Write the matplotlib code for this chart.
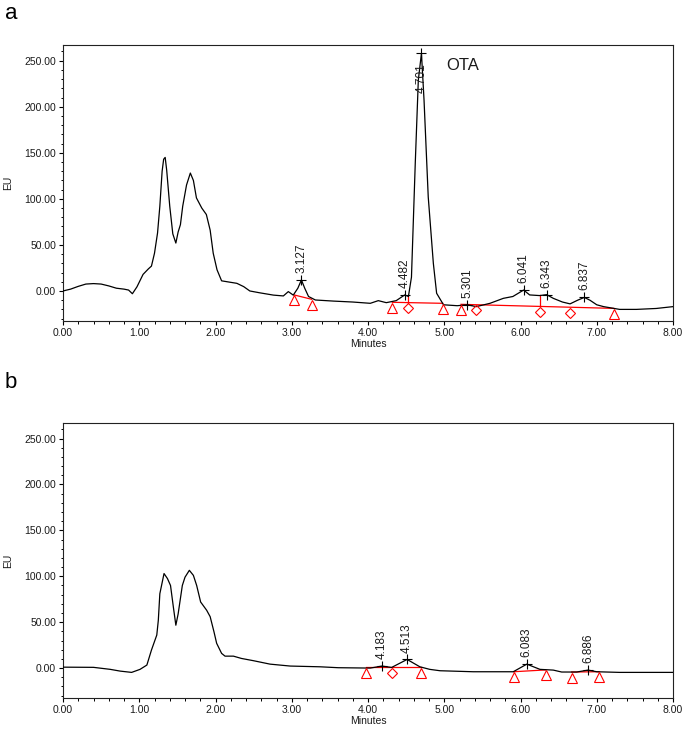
import numpy as np
import matplotlib
matplotlib.use("Agg")
import matplotlib.pyplot as plt
from matplotlib.ticker import MultipleLocator, FormatStrFormatter
from matplotlib.transforms import offset_copy

plt.rcParams['font.family'] = ['Liberation Sans', 'DejaVu Sans']

# ---------------- data: panel a ----------------
time_a = [0.00, 0.10, 0.20, 0.30, 0.40, 0.50, 0.60, 0.70, 0.80, 0.86, 0.91, 0.97,
          1.05, 1.12, 1.16, 1.20, 1.24, 1.27, 1.30, 1.32, 1.34, 1.36, 1.40, 1.44,
          1.48, 1.51, 1.54, 1.57, 1.62, 1.67, 1.71, 1.75, 1.82, 1.88, 1.93, 1.97,
          2.02, 2.08, 2.19, 2.28, 2.37, 2.45, 2.58, 2.76, 2.89, 2.955, 3.02, 3.08,
          3.127, 3.17, 3.22, 3.31, 3.55, 3.80, 4.03, 4.135, 4.24, 4.37, 4.482, 4.53,
          4.57, 4.62, 4.66, 4.701, 4.735, 4.79, 4.857, 4.90, 4.99, 5.17, 5.301, 5.42,
          5.60, 5.775, 5.90, 6.041, 6.12, 6.25, 6.343, 6.43, 6.55, 6.65, 6.75, 6.837,
          6.91, 7.00, 7.09, 7.30, 7.52, 7.78, 8.00]
signal_a = [0.0, 2.0, 5.0, 7.5, 8.0, 7.5, 5.5, 3.0, 2.0, 1.0, -3.0, 4.5,
            18.0, 24.0, 27.0, 41.0, 63.0, 92.0, 130.0, 143.0, 145.0, 131.0, 92.0, 62.0,
            52.0, 64.0, 72.0, 92.0, 115.0, 128.0, 120.0, 101.0, 90.0, 83.0, 66.0, 41.0,
            23.0, 11.0, 9.5, 8.3, 4.7, 0.0, -2.0, -4.5, -5.4, -0.7, -4.5, 3.0,
            12.0, 3.0, -6.0, -9.8, -11.0, -12.0, -13.4, -10.5, -12.7, -10.5, -4.3, -6.0,
            15.0, 139.0, 229.0, 258.0, 207.0, 102.0, 30.0, -2.5, -15.0, -16.0, -15.0, -17.0,
            -13.4, -8.0, -6.0, 1.0, -4.3, -5.0, -4.0, -8.0, -12.0, -14.0, -10.0, -7.0,
            -10.0, -15.0, -17.0, -20.0, -20.0, -19.0, -17.0]
peaks_a = [3.127, 4.482, 4.701, 5.301, 6.041, 6.343, 6.837]
# baseline segments: (t_start, v_start, t_end, v_end)
base_a = [(3.03, -4.3, 3.26, -9.0),
          (4.32, -12.3, 4.98, -13.4),
          (5.22, -14.5, 7.22, -18.9)]
tri_a = [3.03, 3.26, 4.32, 4.98, 5.22, 7.22]
dia_a = [4.53, 5.41, 6.26, 6.65]
drop_a = [4.53, 6.26]

# ---------------- data: panel b ----------------
time_b = [0.00, 0.40, 0.62, 0.75, 0.90, 1.01, 1.10, 1.16, 1.23, 1.25, 1.27, 1.325,
          1.37, 1.41, 1.447, 1.48, 1.51, 1.565, 1.60, 1.657, 1.71, 1.753, 1.805, 1.884,
          1.93, 1.98, 2.015, 2.08, 2.125, 2.235, 2.34, 2.50, 2.715, 2.98, 3.37, 3.61,
          4.03, 4.183, 4.31, 4.513, 4.68, 4.81, 4.944, 5.38, 5.905, 6.083, 6.255, 6.43,
          6.54, 6.737, 6.886, 7.00, 7.30, 8.00]
signal_b = [1.0, 0.8, -1.4, -3.3, -4.7, -1.4, 3.3, 19.6, 36.0, 52.0, 81.0, 103.0,
            97.5, 90.0, 66.7, 46.7, 59.0, 90.0, 99.0, 106.5, 101.0, 90.0, 72.0, 63.0,
            56.0, 39.5, 27.0, 16.0, 13.0, 13.0, 10.5, 8.0, 4.3, 2.2, 1.4, 0.4,
            0.0, 2.2, 0.7, 9.4, 1.4, -1.4, -2.9, -4.0, -4.0, 4.3, -1.4, -2.2,
            -4.3, -4.3, -2.2, -4.0, -4.7, -4.7]
peaks_b = [4.183, 4.513, 6.083, 6.886]
base_b = [(3.98, 0.7, 4.70, 0.7),
          (5.91, -4.0, 6.33, -2.0),
          (6.67, -4.3, 7.03, -4.0)]
tri_b = [3.98, 4.70, 5.91, 6.33, 6.67, 7.03]
dia_b = [4.31]
drop_b = [4.31]

x_ticks = [0, 1, 2, 3, 4, 5, 6, 7, 8]
y_ticks = [0, 50, 100, 150, 200, 250]

W, H = 685, 730
fig = plt.figure(figsize=(W / 100, H / 100), dpi=100)

RED = '#ff0000'
TXT = '#1a1a1a'


def base_value(segs, t):
    for (t0, v0, t1, v1) in segs:
        if t0 - 1e-6 <= t <= t1 + 1e-6:
            return v0 + (v1 - v0) * (t - t0) / (t1 - t0)
    return None


def panel(rect, tt, ss, peaks, segs, tris, dias, drops, ota=False):
    ax = fig.add_axes(rect)
    ax.plot(tt, ss, color='black', lw=0.9, zorder=3)
    for (t0, v0, t1, v1) in segs:
        ax.plot([t0, t1], [v0, v1], color=RED, lw=0.9, zorder=2)
    down = offset_copy(ax.transData, fig=fig, x=0, y=-4, units='points')
    ax.plot(tris, [base_value(segs, t) for t in tris], linestyle='none', marker='^',
            mfc='none', mec=RED, ms=7, mew=0.8, transform=down, zorder=4)
    ax.plot(dias, [base_value(segs, t) for t in dias], linestyle='none', marker='D',
            mfc='none', mec=RED, ms=5, mew=0.8, transform=down, zorder=4)
    for t in drops:
        ax.plot([t, t], [base_value(segs, t), np.interp(t, tt, ss)], color=RED, lw=0.9, zorder=2)
    apex = [np.interp(p, tt, ss) for p in peaks]
    ax.plot(peaks, apex, linestyle='none', marker='+', color='black', ms=6.5, mew=0.8, zorder=5)
    for p, a in zip(peaks, apex):
        if a > 200:
            tr = offset_copy(ax.transData, fig=fig, x=0, y=-7, units='points')
            ax.text(p, a, f'{p:.3f}', rotation=90, ha='center', va='top', fontsize=8.5,
                    color=TXT, transform=tr, zorder=6)
        else:
            tr = offset_copy(ax.transData, fig=fig, x=0, y=5, units='points')
            ax.text(p, a, f'{p:.3f}', rotation=90, ha='center', va='bottom', fontsize=8.5,
                    color=TXT, transform=tr, zorder=6)
    if ota:
        ax.text(5.03, 245, 'OTA', fontsize=12, color=TXT, va='center', ha='left')
    ax.set_xlim(0, 8)
    ax.set_ylim(-32.6, 267)
    ax.set_xticks(x_ticks)
    ax.set_yticks(y_ticks)
    ax.xaxis.set_major_formatter(FormatStrFormatter('%.2f'))
    ax.yaxis.set_major_formatter(FormatStrFormatter('%.2f'))
    ax.xaxis.set_minor_locator(MultipleLocator(0.2))
    ax.yaxis.set_minor_locator(MultipleLocator(10))
    ax.tick_params(which='major', direction='out', length=3, width=0.8, labelsize=7.5,
                   labelcolor=TXT, pad=2)
    ax.tick_params(which='minor', direction='out', length=1.8, width=0.7)
    for sp in ax.spines.values():
        sp.set_linewidth(0.8)
        sp.set_color('#222222')
    ax.set_xlabel('Minutes', fontsize=7.5, color=TXT, labelpad=1)
    ax.set_ylabel('EU', fontsize=7.5, color=TXT)
    ax.yaxis.set_label_coords(-0.082, 0.5)
    return ax


left = 63 / W
width = (673 - 63) / W
panel([left, 1 - 321 / H, width, (321 - 45) / H], time_a, signal_a, peaks_a,
      base_a, tri_a, dia_a, drop_a, ota=True)
panel([left, 1 - 698 / H, width, (698 - 423) / H], time_b, signal_b, peaks_b,
      base_b, tri_b, dia_b, drop_b)

fig.text(5 / W, 1 - 19 / H, 'a', fontsize=16, ha='left', va='baseline')
fig.text(5 / W, 1 - 388 / H, 'b', fontsize=16, ha='left', va='baseline')

fig.savefig('out.png', dpi=100)
